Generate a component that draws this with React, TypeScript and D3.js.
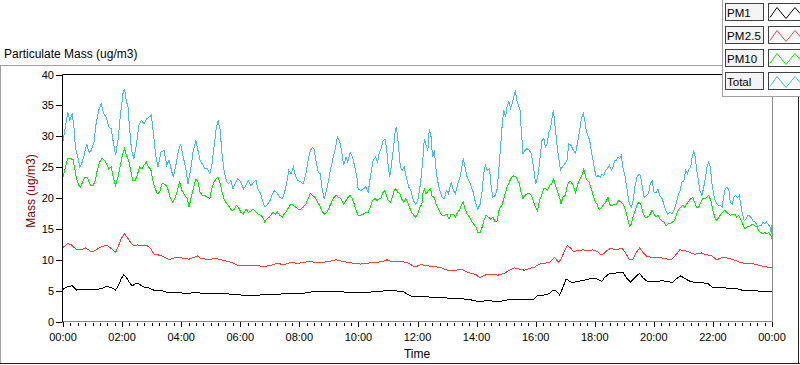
import * as d3 from 'd3';

// [hour, value] pairs
const totalData: [number, number][] = [
  [0, 29.2], [0.08, 31.5], [0.16, 33.9], [0.23, 32.6], [0.31, 33.7], [0.37, 31.5], [0.42, 28.2], [0.5, 26.6],
  [0.57, 25.0], [0.65, 25.8], [0.73, 27.2], [0.8, 28.8], [0.88, 27.4], [0.95, 27.7], [1.05, 29.1], [1.12, 32.0],
  [1.21, 34.2], [1.29, 35.3], [1.38, 33.7], [1.46, 33.1], [1.55, 31.5], [1.63, 31.2], [1.7, 29.1], [1.78, 26.9],
  [1.86, 29.3], [1.95, 33.7], [2.03, 36.9], [2.08, 37.7], [2.14, 35.8], [2.2, 34.7], [2.25, 31.5], [2.32, 27.7],
  [2.4, 26.4], [2.49, 28.8], [2.57, 31.8], [2.65, 32.6], [2.74, 32.0], [2.83, 32.8], [2.91, 33.1], [2.99, 33.4],
  [3.06, 30.4], [3.14, 26.9], [3.22, 25.0], [3.31, 27.4], [3.42, 27.7], [3.51, 25.3], [3.59, 26.1], [3.67, 24.5],
  [3.73, 23.4], [3.81, 25.0], [3.89, 27.2], [3.98, 28.8], [4.07, 26.6], [4.15, 25.0], [4.23, 22.3], [4.32, 24.5],
  [4.41, 27.7], [4.5, 29.3], [4.57, 27.7], [4.64, 26.1], [4.72, 25.5], [4.8, 24.7], [4.89, 24.7], [4.97, 23.9],
  [5.03, 25.0], [5.11, 28.2], [5.18, 31.0], [5.25, 32.6], [5.32, 31.0], [5.38, 27.2], [5.45, 24.5], [5.53, 22.8],
  [5.6, 22.3], [5.68, 22.8], [5.75, 21.5], [5.83, 22.3], [5.91, 23.1], [5.98, 22.8], [6.07, 22.0], [6.11, 21.5],
  [6.19, 22.0], [6.27, 22.8], [6.36, 22.0], [6.45, 22.5], [6.53, 22.9], [6.6, 21.5], [6.69, 20.7], [6.77, 19.3],
  [6.84, 18.5], [6.92, 19.0], [7.01, 19.6], [7.09, 20.7], [7.17, 21.2], [7.26, 20.7], [7.34, 20.1], [7.42, 19.9],
  [7.49, 20.7], [7.57, 22.3], [7.64, 24.5], [7.72, 23.9], [7.8, 25.0], [7.88, 23.4], [7.96, 22.8], [8.05, 22.6],
  [8.13, 22.3], [8.22, 23.9], [8.3, 26.1], [8.37, 27.7], [8.45, 28.2], [8.5, 27.9], [8.56, 26.1], [8.64, 24.2],
  [8.71, 23.9], [8.76, 21.8], [8.84, 19.9], [8.92, 21.2], [8.99, 22.8], [9.07, 25.0], [9.15, 26.6], [9.23, 28.2],
  [9.29, 29.9], [9.36, 29.3], [9.43, 27.7], [9.5, 25.3], [9.58, 26.6], [9.64, 25.8], [9.72, 27.4], [9.8, 26.6],
  [9.88, 25.0], [9.95, 23.4], [9.99, 21.5], [10.08, 21.2], [10.17, 21.5], [10.25, 21.8], [10.33, 20.9], [10.42, 23.9],
  [10.5, 26.1], [10.58, 26.6], [10.65, 25.8], [10.71, 27.4], [10.77, 28.0], [10.84, 29.3], [10.9, 29.6], [10.95, 28.2],
  [11.0, 25.5], [11.06, 23.4], [11.12, 25.5], [11.19, 28.2], [11.25, 31.0], [11.29, 31.5], [11.35, 28.8], [11.42, 25.0],
  [11.49, 24.5], [11.55, 25.0], [11.62, 23.4], [11.7, 21.8], [11.78, 21.2], [11.86, 19.6], [11.94, 19.0], [12.01, 19.6],
  [12.1, 22.3], [12.18, 26.1], [12.23, 29.6], [12.29, 28.5], [12.35, 27.7], [12.4, 31.2], [12.46, 29.9], [12.51, 26.6],
  [12.57, 27.7], [12.63, 24.5], [12.68, 22.8], [12.76, 21.2], [12.83, 20.1], [12.91, 19.9], [12.98, 21.2], [13.05, 20.7],
  [13.14, 22.6], [13.22, 21.2], [13.28, 20.7], [13.36, 22.3], [13.44, 23.4], [13.5, 25.0], [13.55, 26.4], [13.61, 25.0],
  [13.68, 23.4], [13.74, 22.8], [13.81, 22.0], [13.89, 20.9], [13.96, 19.3], [14.04, 18.2], [14.12, 19.0], [14.19, 21.2],
  [14.24, 23.9], [14.3, 25.3], [14.36, 24.5], [14.44, 24.7], [14.49, 22.0], [14.55, 20.1], [14.63, 20.4], [14.7, 21.5],
  [14.75, 24.5], [14.81, 28.2], [14.87, 32.0], [14.92, 34.2], [14.98, 33.1], [15.03, 34.7], [15.09, 35.6], [15.15, 34.5],
  [15.2, 35.3], [15.26, 36.4], [15.31, 37.4], [15.36, 35.8], [15.42, 35.0], [15.47, 34.2], [15.51, 31.2], [15.57, 27.2],
  [15.64, 27.7], [15.71, 28.0], [15.79, 27.7], [15.85, 27.2], [15.93, 25.0], [16.0, 22.3], [16.07, 23.4], [16.14, 26.1],
  [16.21, 29.3], [16.28, 29.6], [16.33, 28.2], [16.39, 28.8], [16.45, 30.7], [16.5, 31.2], [16.56, 33.1], [16.6, 34.2],
  [16.66, 31.5], [16.73, 28.2], [16.79, 26.1], [16.84, 24.5], [16.9, 25.0], [16.98, 25.5], [17.06, 26.1], [17.12, 28.8],
  [17.2, 28.5], [17.28, 27.7], [17.35, 27.2], [17.43, 29.3], [17.49, 31.0], [17.54, 32.6], [17.61, 33.7], [17.66, 32.6],
  [17.71, 31.0], [17.77, 30.1], [17.83, 29.3], [17.88, 27.7], [17.94, 26.1], [18.0, 24.5], [18.05, 23.4], [18.11, 23.6],
  [18.19, 23.4], [18.25, 23.9], [18.31, 23.6], [18.36, 24.5], [18.42, 24.7], [18.5, 25.3], [18.56, 24.5], [18.62, 25.0],
  [18.67, 26.1], [18.73, 26.1], [18.78, 26.6], [18.84, 26.4], [18.9, 26.9], [18.95, 25.0], [19.03, 23.4], [19.1, 21.2],
  [19.17, 19.0], [19.24, 18.5], [19.3, 19.6], [19.36, 21.8], [19.43, 23.4], [19.5, 23.9], [19.55, 23.6], [19.61, 21.8],
  [19.67, 20.1], [19.75, 20.4], [19.82, 20.7], [19.88, 22.3], [19.94, 22.8], [20.01, 20.9], [20.08, 20.9], [20.14, 21.5],
  [20.2, 20.4], [20.28, 19.9], [20.34, 19.0], [20.4, 18.0], [20.46, 17.4], [20.54, 17.7], [20.62, 17.4], [20.68, 18.0],
  [20.75, 19.0], [20.82, 20.4], [20.89, 21.2], [20.95, 22.6], [21.02, 22.8], [21.08, 24.5], [21.14, 23.9], [21.19, 24.7],
  [21.25, 25.0], [21.29, 26.4], [21.35, 27.7], [21.4, 26.6], [21.45, 24.5], [21.51, 22.8], [21.56, 21.2], [21.63, 20.4],
  [21.69, 21.8], [21.75, 23.4], [21.8, 25.0], [21.86, 25.8], [21.91, 25.0], [21.97, 22.3], [22.03, 20.4], [22.08, 19.5],
  [22.14, 19.0], [22.2, 18.8], [22.25, 18.8], [22.31, 18.5], [22.37, 20.4], [22.42, 21.5], [22.48, 21.8], [22.54, 21.3],
  [22.59, 19.3], [22.65, 19.0], [22.71, 20.1], [22.76, 20.4], [22.83, 20.1], [22.89, 20.4], [22.94, 19.0], [23.0, 17.4],
  [23.06, 16.3], [23.11, 16.5], [23.17, 17.1], [23.23, 17.1], [23.28, 16.9], [23.36, 16.3], [23.42, 16.1], [23.47, 15.8],
  [23.53, 15.3], [23.59, 15.6], [23.64, 15.6], [23.7, 16.1], [23.76, 15.8], [23.81, 16.1], [23.87, 15.8], [23.93, 15.3],
  [23.98, 14.2], [24.0, 15.6],
];

const pm10Data: [number, number][] = [
  [0, 23.4], [0.08, 25.0], [0.16, 26.4], [0.25, 26.4], [0.34, 26.2], [0.39, 25.0], [0.46, 23.1], [0.54, 22.0],
  [0.59, 21.8], [0.67, 22.6], [0.74, 23.4], [0.82, 23.4], [0.88, 22.6], [0.95, 22.0], [1.02, 22.0], [1.09, 22.8],
  [1.16, 24.5], [1.24, 25.8], [1.32, 26.4], [1.41, 26.1], [1.48, 25.5], [1.55, 24.7], [1.63, 25.0], [1.7, 23.4],
  [1.78, 22.0], [1.86, 23.4], [1.95, 25.5], [2.02, 27.2], [2.08, 28.0], [2.15, 26.9], [2.22, 26.1], [2.29, 24.5],
  [2.36, 22.8], [2.44, 22.8], [2.51, 23.6], [2.59, 25.0], [2.67, 24.7], [2.74, 25.3], [2.82, 25.8], [2.9, 25.0],
  [2.97, 24.7], [3.03, 23.1], [3.1, 21.8], [3.19, 20.7], [3.27, 20.9], [3.35, 22.3], [3.42, 22.3], [3.5, 22.0],
  [3.57, 21.2], [3.64, 19.9], [3.72, 19.3], [3.8, 20.1], [3.87, 21.2], [3.95, 22.6], [4.03, 21.2], [4.12, 20.4],
  [4.21, 19.9], [4.27, 18.5], [4.35, 20.4], [4.44, 22.0], [4.5, 23.1], [4.57, 22.6], [4.64, 20.9], [4.72, 20.4],
  [4.8, 20.4], [4.89, 20.1], [4.97, 19.9], [5.02, 21.2], [5.11, 22.6], [5.18, 23.1], [5.25, 23.4], [5.32, 22.3],
  [5.4, 20.7], [5.47, 19.6], [5.56, 19.0], [5.64, 18.5], [5.71, 18.0], [5.79, 18.1], [5.87, 18.8], [5.94, 18.5],
  [6.02, 17.7], [6.1, 17.4], [6.19, 18.2], [6.27, 17.7], [6.36, 17.9], [6.45, 18.2], [6.53, 17.7], [6.6, 17.4],
  [6.69, 17.2], [6.76, 16.9], [6.83, 16.1], [6.9, 16.6], [6.98, 16.9], [7.06, 17.4], [7.12, 17.7], [7.19, 17.4],
  [7.26, 17.7], [7.34, 17.2], [7.42, 16.9], [7.49, 17.4], [7.57, 17.9], [7.64, 18.5], [7.72, 19.0], [7.8, 18.8],
  [7.88, 18.5], [7.96, 18.2], [8.05, 18.2], [8.13, 18.5], [8.22, 19.0], [8.3, 19.9], [8.37, 20.7], [8.45, 20.4],
  [8.53, 20.1], [8.62, 19.3], [8.69, 18.8], [8.78, 17.7], [8.86, 17.4], [8.93, 17.7], [9.01, 18.5], [9.09, 19.3],
  [9.17, 20.1], [9.25, 20.4], [9.33, 20.1], [9.41, 19.9], [9.5, 19.0], [9.58, 19.6], [9.65, 20.1], [9.72, 20.4],
  [9.79, 19.9], [9.86, 19.0], [9.93, 17.9], [9.99, 17.2], [10.08, 17.2], [10.17, 17.4], [10.25, 17.7], [10.33, 17.7],
  [10.4, 18.5], [10.48, 19.6], [10.56, 19.9], [10.63, 19.6], [10.71, 19.9], [10.76, 19.9], [10.83, 20.9], [10.9, 21.2],
  [10.95, 20.4], [11.01, 19.6], [11.08, 19.3], [11.15, 20.1], [11.21, 21.2], [11.27, 21.5], [11.33, 20.9], [11.4, 20.7],
  [11.46, 19.9], [11.53, 19.3], [11.6, 19.9], [11.67, 19.3], [11.73, 18.5], [11.8, 17.7], [11.87, 17.2], [11.94, 16.9],
  [12.01, 17.4], [12.08, 18.5], [12.15, 19.0], [12.18, 20.7], [12.23, 21.5], [12.29, 20.7], [12.37, 21.2], [12.44, 21.5],
  [12.49, 20.3], [12.57, 20.1], [12.63, 19.0], [12.68, 18.5], [12.76, 17.7], [12.83, 17.2], [12.91, 17.2], [12.99, 17.4],
  [13.07, 16.6], [13.14, 17.4], [13.22, 17.4], [13.28, 16.9], [13.36, 17.7], [13.44, 18.2], [13.5, 19.0], [13.55, 19.3],
  [13.61, 18.2], [13.68, 17.4], [13.76, 16.9], [13.84, 16.1], [13.9, 15.8], [13.98, 15.3], [14.04, 14.4], [14.12, 14.4],
  [14.19, 15.3], [14.24, 16.3], [14.32, 17.2], [14.4, 16.9], [14.47, 16.6], [14.55, 16.9], [14.63, 16.1], [14.7, 16.3],
  [14.75, 17.9], [14.81, 18.5], [14.87, 19.0], [14.92, 19.9], [14.98, 20.9], [15.03, 21.8], [15.11, 22.6], [15.19, 23.4],
  [15.26, 23.6], [15.33, 23.4], [15.4, 22.8], [15.45, 22.3], [15.51, 20.9], [15.57, 19.9], [15.64, 20.4], [15.71, 20.7],
  [15.79, 20.7], [15.86, 20.4], [15.93, 19.3], [16.0, 18.5], [16.06, 17.9], [16.13, 19.6], [16.2, 20.4], [16.27, 21.5],
  [16.33, 21.5], [16.4, 21.2], [16.47, 22.0], [16.54, 22.3], [16.61, 23.1], [16.67, 22.0], [16.74, 21.0], [16.81, 20.1],
  [16.86, 19.0], [16.92, 20.1], [17.0, 20.4], [17.07, 22.0], [17.14, 22.6], [17.2, 22.6], [17.27, 22.0], [17.35, 20.9],
  [17.43, 22.3], [17.5, 23.1], [17.56, 23.6], [17.63, 24.7], [17.69, 23.4], [17.75, 22.8], [17.81, 22.6], [17.88, 21.5],
  [17.95, 20.4], [18.02, 19.3], [18.08, 19.0], [18.15, 18.1], [18.22, 18.4], [18.31, 19.0], [18.39, 19.5], [18.45, 20.1],
  [18.5, 19.0], [18.58, 18.7], [18.65, 19.0], [18.73, 19.0], [18.81, 19.6], [18.9, 19.3], [18.97, 19.0], [19.03, 18.2],
  [19.1, 16.9], [19.18, 15.5], [19.24, 15.8], [19.29, 16.9], [19.37, 18.0], [19.44, 19.0], [19.51, 19.3], [19.58, 18.7],
  [19.64, 17.4], [19.71, 16.9], [19.78, 16.9], [19.86, 17.2], [19.94, 18.0], [20.01, 17.4], [20.07, 16.9], [20.14, 17.2],
  [20.21, 16.6], [20.28, 16.3], [20.34, 16.1], [20.41, 15.5], [20.48, 15.8], [20.56, 15.9], [20.63, 16.1], [20.69, 16.3],
  [20.76, 17.2], [20.84, 18.2], [20.91, 18.5], [20.98, 18.8], [21.04, 18.5], [21.11, 19.0], [21.18, 19.5], [21.25, 19.9],
  [21.32, 20.1], [21.38, 19.3], [21.45, 18.5], [21.52, 18.5], [21.59, 19.3], [21.66, 19.9], [21.72, 19.9], [21.79, 20.1],
  [21.86, 20.4], [21.93, 19.6], [22.0, 18.0], [22.06, 16.9], [22.13, 16.3], [22.2, 16.9], [22.27, 17.4], [22.33, 17.7],
  [22.4, 18.0], [22.47, 17.7], [22.54, 17.4], [22.6, 17.2], [22.67, 17.4], [22.74, 17.4], [22.81, 16.9], [22.87, 17.2],
  [22.94, 16.6], [23.01, 15.8], [23.08, 15.0], [23.15, 15.3], [23.21, 15.4], [23.28, 15.5], [23.35, 15.8], [23.42, 15.5],
  [23.49, 15.3], [23.55, 14.7], [23.62, 14.4], [23.69, 14.2], [23.76, 14.4], [23.82, 14.2], [23.89, 14.4], [23.96, 13.9],
  [24.0, 13.4],
];

const pm25Data: [number, number][] = [
  [0, 12.0], [0.08, 12.3], [0.16, 12.6], [0.28, 12.4], [0.37, 12.0], [0.48, 11.6], [0.62, 11.6], [0.76, 11.9],
  [0.88, 11.6], [0.95, 11.3], [1.1, 11.5], [1.21, 11.9], [1.33, 12.2], [1.5, 12.3], [1.67, 11.7], [1.78, 11.2],
  [1.86, 12.0], [1.97, 13.4], [2.08, 14.2], [2.18, 13.6], [2.29, 12.8], [2.38, 12.3], [2.51, 12.4], [2.68, 12.3],
  [2.83, 12.3], [2.94, 12.0], [3.08, 10.9], [3.31, 10.7], [3.47, 10.3], [3.59, 10.0], [3.76, 10.3], [3.93, 10.4],
  [4.1, 10.2], [4.27, 10.1], [4.44, 10.4], [4.55, 10.6], [4.66, 10.2], [4.83, 10.1], [5.0, 10.1], [5.17, 10.2],
  [5.34, 10.0], [5.51, 9.8], [5.68, 9.6], [5.79, 9.4], [5.96, 9.0], [6.19, 9.0], [6.47, 9.1], [6.64, 9.0],
  [6.81, 8.9], [7.03, 9.1], [7.26, 9.4], [7.49, 9.2], [7.71, 9.6], [7.94, 9.4], [8.16, 9.6], [8.39, 9.7],
  [8.62, 9.5], [8.84, 9.6], [9.07, 9.8], [9.24, 10.0], [9.41, 9.8], [9.63, 9.6], [9.86, 9.4], [10.08, 9.3],
  [10.31, 9.4], [10.48, 9.6], [10.65, 9.6], [10.82, 9.7], [10.97, 10.0], [11.1, 9.7], [11.27, 9.8], [11.44, 9.7],
  [11.61, 9.6], [11.72, 9.4], [11.84, 9.0], [11.95, 8.9], [12.12, 9.2], [12.35, 9.0], [12.57, 8.9], [12.8, 8.7],
  [13.02, 8.3], [13.25, 8.2], [13.47, 8.5], [13.64, 8.1], [13.81, 7.8], [13.98, 7.6], [14.1, 7.1], [14.27, 7.5],
  [14.49, 7.7], [14.72, 7.5], [14.94, 7.8], [15.11, 8.3], [15.28, 8.7], [15.45, 8.5], [15.62, 8.3], [15.79, 8.6],
  [15.96, 8.8], [16.13, 9.3], [16.3, 9.4], [16.47, 9.6], [16.64, 10.4], [16.77, 9.6], [16.86, 10.1], [16.98, 11.5],
  [17.07, 12.3], [17.18, 11.9], [17.29, 11.3], [17.43, 11.5], [17.6, 11.6], [17.77, 11.5], [17.94, 11.6], [18.09, 11.3],
  [18.22, 10.8], [18.31, 11.0], [18.42, 11.5], [18.56, 11.9], [18.67, 11.6], [18.78, 11.7], [18.92, 11.9], [19.03, 11.2],
  [19.18, 10.0], [19.29, 10.1], [19.41, 11.2], [19.52, 11.9], [19.63, 11.2], [19.75, 10.6], [19.92, 10.4], [20.14, 10.4],
  [20.37, 10.2], [20.59, 10.0], [20.73, 10.7], [20.88, 11.6], [21.04, 11.5], [21.21, 11.2], [21.38, 10.9], [21.61, 11.1],
  [21.78, 10.8], [21.95, 10.7], [22.12, 10.0], [22.29, 10.3], [22.46, 10.3], [22.63, 10.1], [22.8, 9.8], [22.97, 9.5],
  [23.19, 9.4], [23.42, 9.3], [23.64, 9.0], [23.87, 8.8], [24.0, 8.7],
];

const pm1Data: [number, number][] = [
  [0, 5.2], [0.14, 5.6], [0.31, 5.8], [0.46, 5.1], [0.65, 5.2], [0.82, 5.2], [0.95, 5.1], [1.16, 5.2],
  [1.33, 5.4], [1.5, 5.7], [1.67, 5.4], [1.78, 5.1], [1.87, 5.8], [1.97, 6.9], [2.06, 7.6], [2.15, 7.1],
  [2.25, 6.3], [2.34, 5.8], [2.46, 6.1], [2.57, 6.1], [2.72, 5.6], [2.88, 5.5], [2.99, 5.2], [3.14, 5.0],
  [3.36, 5.0], [3.53, 4.7], [3.87, 4.7], [4.21, 4.5], [4.44, 4.7], [4.66, 4.6], [4.89, 4.6], [5.23, 4.5],
  [5.56, 4.5], [5.79, 4.3], [6.02, 4.3], [6.19, 4.2], [6.47, 4.2], [6.69, 4.3], [7.15, 4.4], [7.6, 4.5],
  [8.05, 4.5], [8.28, 4.7], [8.62, 4.9], [8.95, 4.9], [9.29, 4.9], [9.63, 4.7], [10.08, 4.7], [10.54, 4.8],
  [10.99, 5.0], [11.5, 4.9], [11.67, 4.4], [11.78, 4.1], [12.01, 4.1], [12.29, 4.0], [12.57, 3.9], [13.02, 3.8],
  [13.47, 3.7], [13.81, 3.5], [14.1, 3.2], [14.38, 3.4], [14.72, 3.2], [15.06, 3.5], [15.51, 3.5], [15.9, 3.5],
  [16.07, 4.2], [16.3, 4.3], [16.47, 4.5], [16.58, 5.1], [16.7, 4.9], [16.81, 4.3], [16.92, 5.5], [17.03, 6.9],
  [17.15, 6.5], [17.26, 6.3], [17.43, 6.5], [17.66, 6.7], [17.83, 6.9], [18.0, 7.0], [18.16, 6.7], [18.24, 6.5],
  [18.33, 7.1], [18.5, 7.8], [18.67, 7.8], [18.84, 8.0], [18.95, 8.0], [19.07, 7.1], [19.21, 6.4], [19.35, 7.1],
  [19.52, 7.8], [19.63, 7.1], [19.8, 6.4], [20.03, 6.4], [20.25, 6.6], [20.48, 6.5], [20.63, 6.3], [20.76, 6.9],
  [20.91, 7.4], [21.04, 7.0], [21.18, 6.6], [21.38, 6.3], [21.61, 6.3], [21.84, 6.1], [22.0, 5.5], [22.29, 5.5],
  [22.51, 5.4], [22.74, 5.4], [22.97, 5.1], [23.3, 5.0], [23.64, 4.9], [24.0, 4.9],
];

const seriesNames = ['PM1', 'PM2.5', 'PM10', 'Total'];
const seriesColors = ['#000000', '#ff3c3c', '#00ee00', '#3cbcff'];
const seriesData = [pm1Data, pm25Data, pm10Data, totalData];

const yTicks = [0, 5, 10, 15, 20, 25, 30, 35, 40];
const xTickHours = [0, 2, 4, 6, 8, 10, 12, 14, 16, 18, 20, 22, 24];
const xTickLabels = ['00:00', '02:00', '04:00', '06:00', '08:00', '10:00', '12:00', '14:00', '16:00', '18:00', '20:00', '22:00', '00:00'];

const font = '"Liberation Sans", Arial, sans-serif';

export default function App() {
  const width = 800;
  const height = 365;
  const left = 62.5;
  const right = 772.5;
  const top = 74.5;
  const bottom = 321.5;

  const x = d3.scaleLinear().domain([0, 24]).range([63, 772]);
  const y = d3.scaleLinear().domain([0, 40]).range([bottom, top]);

  const line = d3
    .line<[number, number]>()
    .x((d) => x(d[0]))
    .y((d) => y(d[1]));

  const minorTicks = d3.range(0, 24 * 4 + 1).map((i) => i / 4);

  // legend geometry
  const legX = 722.5;
  const rowH = 23;

  return (
    <div style={{ position: 'absolute', left: 0, top: 0 }}>
      <svg width={width} height={height} style={{ display: 'block', fontFamily: font }}>
        <rect width={width} height={height} fill='#ffffff' />

        {/* outer frame */}
        <line x1={0} x2={legX} y1={65.5} y2={65.5} stroke='#a0a0a0' />
        <line x1={0.5} x2={0.5} y1={65.5} y2={363} stroke='#a0a0a0' />
        <line x1={0} x2={800} y1={363.5} y2={363.5} stroke='#202020' />
        <line x1={798.5} x2={798.5} y1={96} y2={364} stroke='#202020' />

        <text x={4} y={58} fontSize={12} fill='#000'>
          Particulate Mass (ug/m3)
        </text>

        {/* plot frame */}
        <line x1={left} x2={legX} y1={top} y2={top} stroke='#000' />
        <line x1={left} x2={left} y1={top} y2={bottom + 0.5} stroke='#000' />
        <line x1={right} x2={right} y1={96} y2={bottom} stroke='#8a8a8a' />
        <line x1={left + 0.5} x2={right} y1={bottom} y2={bottom} stroke='#8a8a8a' />

        <defs>
          <clipPath id='plotClip'>
            <rect x={left + 0.5} y={top + 0.5} width={right - left - 1} height={bottom - top} />
          </clipPath>
        </defs>

        <g clipPath='url(#plotClip)'>
          {seriesData.map((data, i) => (
            <path
              key={seriesNames[i]}
              d={line(data) ?? ''}
              fill='none'
              stroke={seriesColors[i]}
              strokeWidth={1}
              shapeRendering='crispEdges'
            />
          ))}
        </g>

        {/* y axis */}
        {yTicks.map((t) => (
          <g key={t}>
            <line x1={56} x2={left} y1={Math.round(y(t)) + 0.5} y2={Math.round(y(t)) + 0.5} stroke='#000' />
            <text x={54} y={y(t) + 4} fontSize={11} textAnchor='end' fill='#000'>
              {t}
            </text>
          </g>
        ))}
        <text
          transform={`translate(35,191) rotate(-90)`}
          fontSize={12}
          textAnchor='middle'
          fill='#800000'
        >
          Mass (ug/m3)
        </text>

        {/* x axis */}
        {minorTicks.map((h) => {
          const major = h % 2 === 0;
          const px = Math.round(x(h)) + 0.5;
          return (
            <line key={h} x1={px} x2={px} y1={major ? 322 : 323} y2={major ? 327 : 326} stroke='#000' />
          );
        })}
        {xTickHours.map((h, i) => (
          <text key={i} x={x(h)} y={341} fontSize={11} textAnchor='middle' fill='#000'>
            {xTickLabels[i]}
          </text>
        ))}
        <text x={417} y={358} fontSize={12} textAnchor='middle' fill='#000'>
          Time
        </text>

        {/* legend */}
        <rect x={legX} y={-1} width={80} height={97.5} fill='#ffffff' stroke='#a0a0a0' />
        {seriesNames.map((name, i) => {
          const ty = 3.5 + i * rowH;
          return (
            <g key={name}>
              <rect x={725.5} y={ty} width={38} height={17} fill='#f4f4f4' stroke='#404040' />
              <text x={727} y={ty + 13} fontSize={11.5} fill='#000' textLength={name === 'PM2.5' ? 34 : undefined}>
                {name}
              </text>
              <rect x={768.5} y={ty} width={34} height={17} fill='#ffffff' stroke='#404040' />
              <polyline
                points={`770,${ty + 14} 777,${ty + 4} 786,${ty + 15} 795,${ty + 4} 800,${ty + 10}`}
                fill='none'
                stroke={seriesColors[i]}
              />
            </g>
          );
        })}
      </svg>
    </div>
  );
}
